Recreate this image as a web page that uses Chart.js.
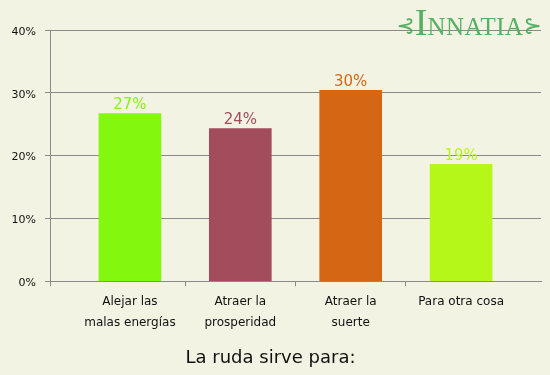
<!DOCTYPE html>
<html lang="es">
<head>
  <meta charset="UTF-8" />
  <title>La ruda sirve para</title>
  <script src="https://cdn.jsdelivr.net/npm/chart.js"></script>
  <style>
    html, body { margin: 0; padding: 0; background: #f3f3e3; }
    #wrap { position: relative; width: 550px; height: 375px; }
    #logo {
      position: absolute; right: 8px; top: 3px;
      font-family: 'DejaVu Sans', sans-serif; color: #55b064;
      white-space: nowrap; line-height: 1;
    }
    #logo .orn { font-size: 22px; vertical-align: 2px; }
    #logo .big { font-family: 'Liberation Serif', serif; font-size: 38px; }
    #logo .rest { font-family: 'Liberation Serif', serif; font-size: 25px; letter-spacing: 0.5px; }
  </style>
</head>
<body>
  <div id="wrap">
    <canvas id="chart" width="550" height="375"></canvas>
    <div id="logo"><span class="orn">⊰</span><span class="big">I</span><span class="rest">NNATIA</span><span class="orn">⊱</span></div>
  </div>

  <script>
    // datos
    const categories = [['Alejar las', 'malas energías'], ['Atraer la', 'prosperidad'], ['Atraer la', 'suerte'], 'Para otra cosa'];
    const values = [26.7, 24.3, 30.4, 18.6];
    const barColors = ['#84f70e', '#a34d5c', '#d56714', '#b6f71a'];
    const yTicks = [0, 10, 20, 30, 40];

    const font = "'DejaVu Sans', sans-serif";
    const gray = '#8a8a8a';

    // etiquetas de porcentaje sobre cada barra
    const valueLabels = {
      id: 'valueLabels',
      afterDatasetsDraw(chart) {
        const ctx = chart.ctx;
        const meta = chart.getDatasetMeta(0);
        ctx.save();
        ctx.font = '15px ' + font;
        ctx.textAlign = 'center';
        ctx.textBaseline = 'middle';
        meta.data.forEach((bar, i) => {
          ctx.fillStyle = barColors[i];
          ctx.fillText(Math.round(values[i]) + '%', bar.x, bar.y - 8);
        });
        ctx.restore();
      }
    };

    new Chart(document.getElementById('chart'), {
      type: 'bar',
      data: {
        datasets: [{
          data: values.map((v, i) => ({ x: i, y: v })),
          backgroundColor: barColors,
          barThickness: 62
        }]
      },
      options: {
        responsive: false,
        animation: false,
        layout: { padding: { top: 30, right: 9, left: 0, bottom: 0 } },
        plugins: {
          legend: { display: false },
          tooltip: { enabled: false },
          title: {
            display: true,
            position: 'bottom',
            text: 'La ruda sirve para:',
            color: '#111',
            font: { family: font, size: 18, weight: 'normal' },
            padding: { top: 0, bottom: 6 }
          }
        },
        scales: {
          x: {
            type: 'linear',
            min: -0.724,
            max: 3.724,
            offset: false,
            afterBuildTicks: scale => {
              scale.ticks = [-0.724, 0, 0.5, 1, 1.5, 2, 2.5, 3].map(v => ({ value: v }));
            },
            afterFit: scale => { scale.height = 66.2; },
            grid: {
              offset: false,
              drawOnChartArea: false,
              drawTicks: true,
              tickLength: 5,
              tickColor: c => Number.isInteger(c.tick.value) ? 'rgba(0,0,0,0)' : gray
            },
            border: { display: true, color: gray },
            ticks: {
              autoSkip: false,
              maxRotation: 0,
              minRotation: 0,
              padding: 5.5,
              color: '#111',
              font: { family: font, size: 12, lineHeight: 1.75 },
              callback: v => Number.isInteger(v) ? categories[v] : ''
            }
          },
          y: {
            min: 0,
            max: 40,
            afterBuildTicks: scale => {
              scale.ticks = yTicks.map(v => ({ value: v }));
            },
            afterFit: scale => { scale.width = 50; },
            grid: { color: gray, tickLength: 5, tickColor: gray },
            border: { display: true, color: gray },
            ticks: {
              padding: 9,
              labelOffset: 2,
              color: '#111',
              font: { family: font, size: 11 },
              callback: v => v + '%'
            }
          }
        }
      },
      plugins: [valueLabels]
    });
  </script>
</body>
</html>
